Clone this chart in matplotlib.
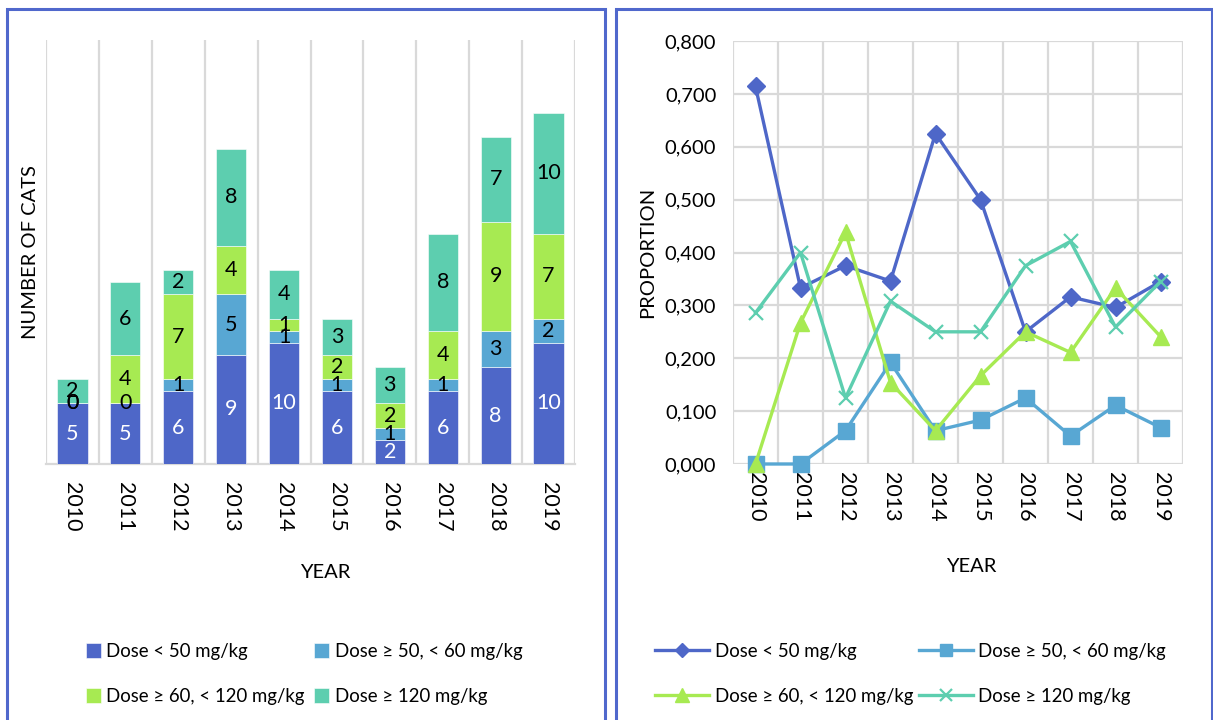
import matplotlib
matplotlib.use("Agg")
import matplotlib.pyplot as plt
from matplotlib.patches import Rectangle
from matplotlib.ticker import FixedLocator, FuncFormatter

plt.rcParams['font.family'] = ['Lato', 'DejaVu Sans']

years = ['2010', '2011', '2012', '2013', '2014', '2015', '2016', '2017', '2018', '2019']
series_names = ['Dose < 50 mg/kg', 'Dose ≥ 50, < 60 mg/kg',
                'Dose ≥ 60, < 120 mg/kg', 'Dose ≥ 120 mg/kg']

# number of cats per dose group and year
dose_lt50 = [5, 5, 6, 9, 10, 6, 2, 6, 8, 10]
dose_50_60 = [0, 0, 1, 5, 1, 1, 1, 1, 3, 2]
dose_60_120 = [0, 4, 7, 4, 1, 2, 2, 4, 9, 7]
dose_ge120 = [2, 6, 2, 8, 4, 3, 3, 8, 7, 10]

# proportion of cats per dose group and year
prop_lt50 = [0.714, 0.333, 0.375, 0.346, 0.625, 0.500, 0.250, 0.316, 0.296, 0.345]
prop_50_60 = [0.000, 0.000, 0.063, 0.192, 0.063, 0.083, 0.125, 0.053, 0.111, 0.069]
prop_60_120 = [0.000, 0.267, 0.438, 0.154, 0.063, 0.167, 0.250, 0.211, 0.333, 0.241]
prop_ge120 = [0.286, 0.400, 0.125, 0.308, 0.250, 0.250, 0.375, 0.421, 0.259, 0.345]

colors = ['#4E67C8', '#58A7D3', '#A7EA52', '#5DCEAF']
grid_c = '#D9D9D9'
frame_c = '#5068CC'
fs = 14.5
leg_fs = 13.4

W, H = 1213, 720
fig = plt.figure(figsize=(W / 100, H / 100), dpi=100)


def px_axes(x0, y0, x1, y1):
    # axes from pixel box (top-left origin)
    return fig.add_axes([x0 / W, 1 - y1 / H, (x1 - x0) / W, (y1 - y0) / H])


def row_order(items):
    # legend fills column by column; reorder so entries read across rows
    return [items[0], items[2], items[1], items[3]]


# panel frames
fig.add_artist(Rectangle((6.5 / W, -0.05), 598 / W, 1.05 - 9 / H,
                         transform=fig.transFigure, fill=False, ec=frame_c, lw=2.2))
fig.add_artist(Rectangle((616 / W, -0.05), 596 / W, 1.05 - 9 / H,
                         transform=fig.transFigure, fill=False, ec=frame_c, lw=2.2))

# ---- stacked bars ----
ax1 = px_axes(46, 40, 575, 464)
x = list(range(len(years)))
counts = [dose_lt50, dose_50_60, dose_60_120, dose_ge120]
bottom = [0] * len(years)
for i, (vals, name) in enumerate(zip(counts, series_names)):
    bars = ax1.bar(x, vals, width=0.57, bottom=bottom, color=colors[i],
                   edgecolor='white', linewidth=0.4, label=name, zorder=3)
    ax1.bar_label(bars, labels=[str(v) for v in vals], label_type='center',
                  fontsize=fs + 1, color='white' if i == 0 else 'black', zorder=4)
    bottom = [b + v for b, v in zip(bottom, vals)]

ax1.set_xlim(-0.5, 9.5)
ax1.set_ylim(0, 35)
ax1.set_yticks([])
ax1.set_xticks(x)
ax1.set_xticklabels(years, rotation=270, fontsize=fs + 1)
ax1.tick_params(axis='x', length=0, pad=13)
ax1.xaxis.set_minor_locator(FixedLocator([k - 0.5 for k in range(11)]))
ax1.tick_params(axis='x', which='minor', length=0)
ax1.grid(axis='x', which='minor', color=grid_c, lw=1.6, zorder=0)
for s in ['top', 'right', 'left']:
    ax1.spines[s].set_visible(False)
ax1.spines['bottom'].set_color(grid_c)
ax1.spines['bottom'].set_linewidth(1.6)
ax1.set_ylabel('NUMBER OF CATS', fontsize=fs, labelpad=5)
fig.text(325 / W, 1 - 572 / H, 'YEAR', fontsize=fs, ha='center', va='center')

h1, l1 = ax1.get_legend_handles_labels()
fig.legend(row_order(h1), row_order(l1), loc='upper left',
           bbox_to_anchor=(86 / W, 1 - 643 / H), ncol=2, frameon=False,
           fontsize=leg_fs, handlelength=0.8, handleheight=0.8, handletextpad=0.3,
           columnspacing=0.5, labelspacing=1.5, borderpad=0, borderaxespad=0)

# ---- proportion lines ----
ax2 = px_axes(733, 41, 1183, 464)
props = [prop_lt50, prop_50_60, prop_60_120, prop_ge120]
markers = [('D', 9, 1), ('s', 11, 1), ('^', 12, 1), ('x', 10, 1.6)]
for i, (vals, name) in enumerate(zip(props, series_names)):
    m, ms, mew = markers[i]
    ax2.plot(x, vals, color=colors[i], lw=2.4, marker=m, ms=ms, mew=mew,
             mec=colors[i], mfc=colors[i], label=name, zorder=3, clip_on=False)

ax2.set_xlim(-0.5, 9.5)
ax2.set_ylim(0, 0.8)
ax2.set_yticks([k / 10 for k in range(9)])
ax2.yaxis.set_major_formatter(FuncFormatter(lambda v, p: f'{v:.3f}'.replace('.', ',')))
ax2.set_xticks(x)
ax2.set_xticklabels(years, rotation=270, fontsize=fs + 1)
ax2.tick_params(axis='x', length=0, pad=6)
ax2.tick_params(axis='y', length=0, pad=12, labelsize=fs)
ax2.xaxis.set_minor_locator(FixedLocator([k - 0.5 for k in range(11)]))
ax2.tick_params(axis='x', which='minor', length=0)
ax2.grid(axis='x', which='minor', color=grid_c, lw=1.6, zorder=0)
ax2.grid(axis='y', which='major', color=grid_c, lw=1.6, zorder=0)
for s in ax2.spines.values():
    s.set_visible(False)
ax2.set_ylabel('PROPORTION', fontsize=fs, labelpad=6)
fig.text(971 / W, 1 - 567 / H, 'YEAR', fontsize=fs, ha='center', va='center')

h2, l2 = ax2.get_legend_handles_labels()
fig.legend(row_order(h2), row_order(l2), loc='upper left',
           bbox_to_anchor=(655 / W, 1 - 643 / H),
           ncol=2, frameon=False, fontsize=leg_fs, handlelength=2.9, numpoints=1,
           handletextpad=0.3, columnspacing=0.3, labelspacing=1.5,
           borderpad=0, borderaxespad=0, markerscale=0.8)

fig.savefig('out.png', dpi=100)
